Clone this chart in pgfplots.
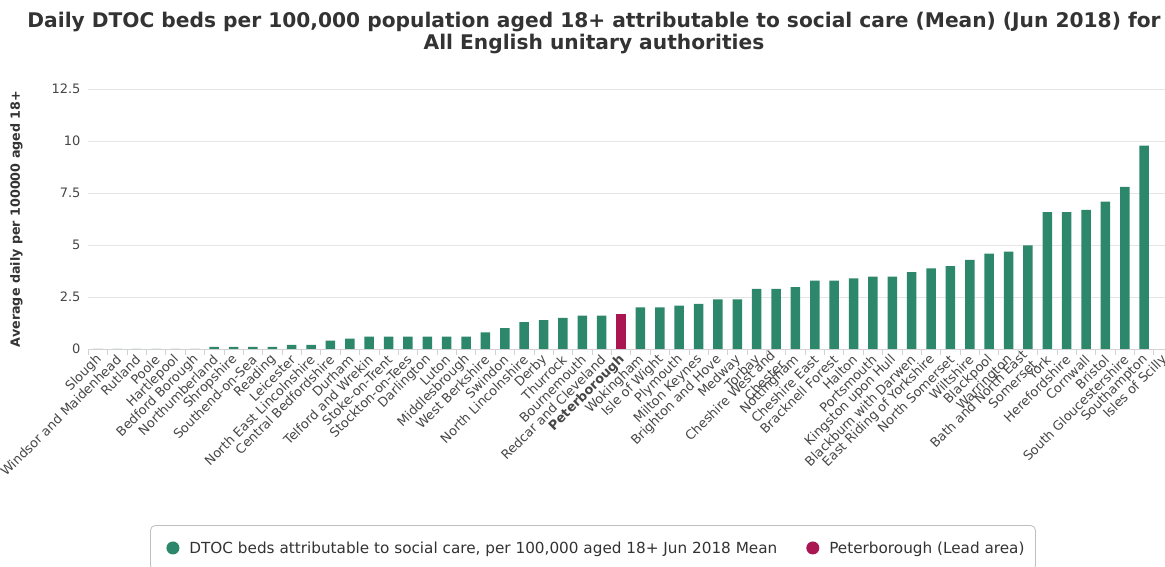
\documentclass[border=0pt]{standalone}
\usepackage{pgfplots}
\pgfplotsset{compat=1.18}
\usepackage{fontspec}
\setmainfont{DejaVu Sans}
\definecolor{dgreen}{RGB}{44,135,107}
\definecolor{dred}{RGB}{170,22,82}
\definecolor{txt}{RGB}{51,51,51}
\definecolor{lab}{RGB}{70,70,70}
\begin{document}
\begin{tikzpicture}[x=1pt,y=1pt]
\node[font=\bfseries\fontsize{20.2}{22}\selectfont, color=txt, align=center] at (594,534) {Daily DTOC beds per 100,000 population aged 18+ attributable to social care (Mean) (Jun 2018) for\\All English unitary authorities};
\begin{axis}[
  at={(88.3pt,218pt)}, anchor=south west,
  scale only axis, width=1085pt, height=260pt,
  xmin=-0.5, xmax=55.5, ymin=0, ymax=12.5,
  axis x line*=bottom, axis y line*=left,
  x axis line style={draw=gray!35, line width=0.8pt},
  y axis line style={draw=none},
  ytick={0,2.5,5,7.5,10,12.5},
  yticklabels={0,2.5,5,7.5,10,12.5},
  ytick style={draw=none},
  ymajorgrids, grid style={color=gray!20, line width=0.8pt},
  yticklabel style={font=\fontsize{13}{15}\selectfont, color=lab},
  /pgf/number format/assume math mode=true,
  xtick={0,...,55},
  major x tick style={draw=none},
  minor xtick={-0.5,0.5,...,55.5},
  minor x tick style={draw=gray!35, line width=0.8pt},
  tick align=outside, minor tick length=6pt,
  xticklabel style={rotate=45, anchor=east, font=\fontsize{12.9}{13.4}\selectfont, color=lab, align=right, inner sep=2pt, yshift=-4pt},
  xticklabels={Slough,Windsor and Maidenhead,Rutland,Poole,Hartlepool,Bedford Borough,Northumberland,Shropshire,Southend-on-Sea,Reading,Leicester,North East Lincolnshire,Central Bedfordshire,Durham,Telford and Wrekin,Stoke-on-Trent,Stockton-on-Tees,Darlington,Luton,Middlesbrough,West Berkshire,Swindon,North Lincolnshire,Derby,Thurrock,Bournemouth,Redcar and Cleveland,{\bfseries Peterborough},Wokingham,Isle of Wight,Plymouth,Milton Keynes,Brighton and Hove,Medway,Torbay,{Cheshire West and\\Chester},Nottingham,Cheshire East,Bracknell Forest,Halton,Portsmouth,Kingston upon Hull,Blackburn with Darwen,East Riding of Yorkshire,North Somerset,Wiltshire,Blackpool,Warrington,{Bath and North East\\Somerset},York,Herefordshire,Cornwall,Bristol,South Gloucestershire,Southampton,Isles of Scilly},
  ylabel={\bfseries Average daily per 100000 aged 18+},
  ylabel style={font=\fontsize{12.7}{14}\selectfont, color=txt},
  ylabel shift=22pt,
  legend style={at={(axis description cs:0.0569,-0.677)}, anchor=north west, legend columns=2, draw=gray!50, line width=0.8pt, rounded corners=5pt, font=\fontsize{15.25}{17}\selectfont, text=txt, inner xsep=9pt, inner ysep=14pt, /tikz/every even column/.append style={column sep=20pt}},
  legend cell align=left,
]
\addplot[ybar, bar width=9.5pt, bar shift=0pt, fill=dgreen, draw=none,
  legend image code/.code={\path (-13.5pt,0pt) (14.5pt,0pt); \fill[dgreen] (0pt,0pt) circle (6.5pt);}] coordinates {
(0,0) (1,0) (2,0) (3,0) (4,0) (5,0) (6,0.1) (7,0.1) (8,0.1) (9,0.1)
(10,0.2) (11,0.2) (12,0.4) (13,0.5) (14,0.59) (15,0.59) (16,0.59) (17,0.59) (18,0.59) (19,0.59)
(20,0.8) (21,1.0) (22,1.29) (23,1.39) (24,1.5) (25,1.6) (26,1.6)
(28,2.0) (29,2.0) (30,2.09) (31,2.17) (32,2.38) (33,2.38) (34,2.89) (35,2.89) (36,2.97) (37,3.29) (38,3.29) (39,3.39)
(40,3.48) (41,3.48) (42,3.69) (43,3.88) (44,3.98) (45,4.28) (46,4.58) (47,4.68) (48,4.98) (49,6.58)
(50,6.58) (51,6.69) (52,7.08) (53,7.8) (54,9.78)
};
\addlegendentry{DTOC beds attributable to social care, per 100,000 aged 18+ Jun 2018 Mean}
\addplot[ybar, bar width=9.5pt, bar shift=0pt, fill=dred, draw=none,
  legend image code/.code={\path (-13.5pt,0pt) (14.5pt,0pt); \fill[dred] (0pt,0pt) circle (6.5pt);}] coordinates {(27,1.69)};
\addlegendentry{Peterborough (Lead area)}
\end{axis}
\pgfresetboundingbox
\path[use as bounding box] (0,0) rectangle (1165,567);
\end{tikzpicture}
\end{document}
